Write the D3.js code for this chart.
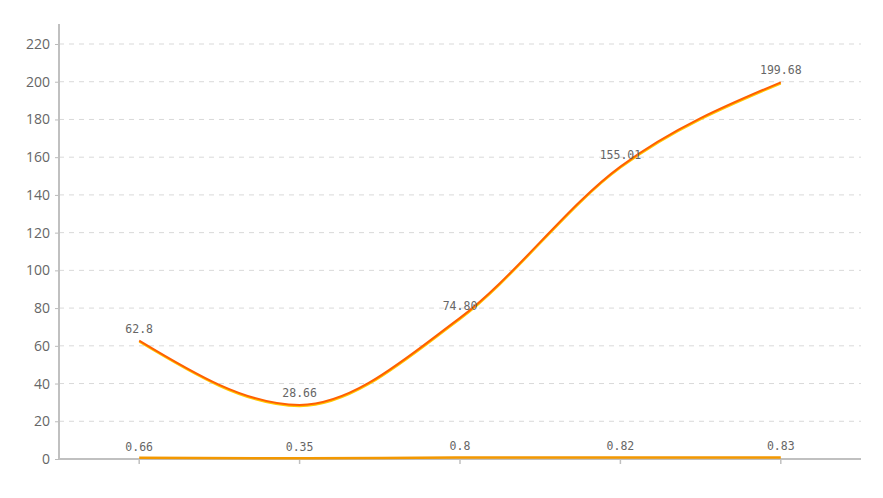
<!DOCTYPE html>
<html><head><meta charset="utf-8">
<script src="https://cdn.jsdelivr.net/npm/d3@7/dist/d3.min.js"></script>
<style>body{margin:0;background:#fff;}svg{display:block;}</style>
</head><body>
<svg id="chart" width="883" height="498"></svg>
<script>
const categories = ["A", "B", "C", "D", "E"];
const seriesMain = [62.8, 28.66, 74.80, 155.01, 199.68];
const seriesMainLabels = ["62.8", "28.66", "74.80", "155.01", "199.68"];
const seriesLow = [0.66, 0.35, 0.8, 0.82, 0.83];
const seriesLowLabels = ["0.66", "0.35", "0.8", "0.82", "0.83"];
const yTicks = [0, 20, 40, 60, 80, 100, 120, 140, 160, 180, 200, 220];

(function () {
const svg = d3.select("#chart");
const gLeft = 59, gRight = 861, gTop = 24, gBottom = 459;

const x = d3.scaleBand().domain(categories).range([gLeft, gRight]);
const y = d3.scaleLinear().domain([0, 220]).range([gBottom, 44]);
const cx = d => x(d) + x.bandwidth() / 2;

// grid lines
svg.append("g").selectAll("line").data(yTicks.filter(t => t > 0)).join("line")
  .attr("x1", gLeft).attr("x2", gRight)
  .attr("y1", d => y(d)).attr("y2", d => y(d))
  .attr("stroke", "#d9d9d9").attr("stroke-width", 1).attr("stroke-dasharray", "5,5");

// y axis
const yAxis = d3.axisLeft(y).tickValues(yTicks).tickSize(4).tickPadding(5);
const yg = svg.append("g").attr("transform", `translate(${gLeft},0)`).call(yAxis);
yg.select(".domain").remove();
yg.selectAll(".tick line").attr("stroke", "#bbb");
yg.selectAll(".tick text").attr("fill", "#666").attr("font-size", 14)
  .attr("font-family", "'Open Sans', 'DejaVu Sans', sans-serif");
svg.append("line").attr("x1", gLeft).attr("x2", gLeft).attr("y1", gTop).attr("y2", gBottom)
  .attr("stroke", "#c0c0c0").attr("stroke-width", 2);

// x axis
const xAxis = d3.axisBottom(x).tickSize(5).tickFormat("");
const xg = svg.append("g").attr("transform", `translate(0,${gBottom})`).call(xAxis);
xg.select(".domain").attr("stroke", "#c0c0c0").attr("stroke-width", 2).attr("d", `M${gLeft},0H${gRight}`);
xg.selectAll(".tick line").attr("stroke", "#c0c0c0").attr("stroke-width", 1.5);

const line = d3.line().x((d, i) => cx(categories[i])).y(d => y(d)).curve(d3.curveMonotoneX);

// low series
svg.append("path").datum(seriesLow).attr("d", line)
  .attr("fill", "none").attr("stroke", "#f39800").attr("stroke-width", 2.5);

// main series with yellow shadow
svg.append("path").datum(seriesMain).attr("d", line)
  .attr("transform", "translate(0,1.2)")
  .attr("fill", "none").attr("stroke", "#ffc800").attr("stroke-width", 2);
svg.append("path").datum(seriesMain).attr("d", line)
  .attr("fill", "none").attr("stroke", "#ff6000").attr("stroke-width", 2);

// labels
const lblFont = "'DejaVu Sans Mono', 'Liberation Mono', monospace";
svg.append("g").selectAll("text").data(seriesMain).join("text")
  .attr("x", (d, i) => cx(categories[i])).attr("y", d => y(d) - 8)
  .attr("text-anchor", "middle").attr("fill", "#666").attr("font-size", 11.5)
  .attr("font-family", lblFont).text((d, i) => seriesMainLabels[i]);
svg.append("g").selectAll("text").data(seriesLow).join("text")
  .attr("x", (d, i) => cx(categories[i])).attr("y", d => y(d) - 7)
  .attr("text-anchor", "middle").attr("fill", "#666").attr("font-size", 11.5)
  .attr("font-family", lblFont).text((d, i) => seriesLowLabels[i]);
})();
</script>
</body></html>
